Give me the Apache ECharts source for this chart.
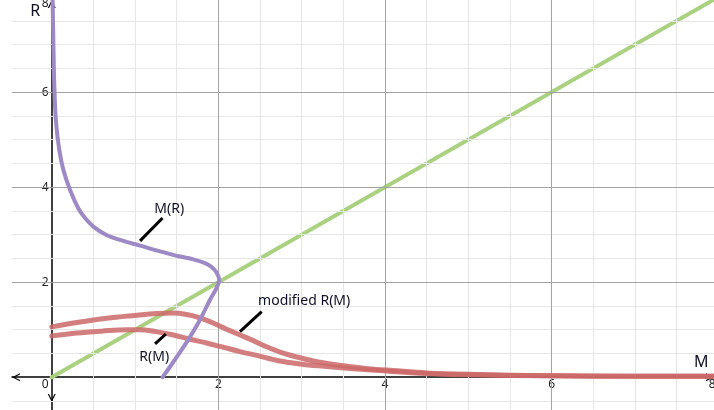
<!DOCTYPE html>
<html>
<head>
<meta charset="utf-8">
<script src="https://cdn.jsdelivr.net/npm/echarts@6/dist/echarts.min.js"></script>
<style>
  html, body { margin: 0; padding: 0; background: #fff; }
  #chart { width: 714px; height: 410px; }
</style>
</head>
<body>
<div id="chart"></div>
<script>
// Visible window of the M-R plane
const xRange = [-0.477, 7.95];
const yRange = [-0.69, 7.94];

// Grid spacing and labelled ticks
const minorStep = 0.5;
const majorStep = 2;
const xTicks = [2, 4, 6, 8];
const yTicks = [2, 4, 6, 8];

// Line R = M
const idM = [0, 8];
const idR = [0, 8];

// M(R): mass as a function of radius (traced along R)
const mrR = [0, 0.22, 0.5, 0.85, 1.21, 1.63, 1.85, 2.05, 2.2, 2.32, 2.40, 2.48, 2.54, 2.65, 2.77, 2.89, 3.0, 3.17, 3.35, 3.55, 3.94, 4.36, 4.79, 5.4, 6.2, 7.0, 8.0];
const mrM = [1.33, 1.42, 1.53, 1.66, 1.78, 1.90, 1.97, 2.01, 1.98, 1.92, 1.84, 1.70, 1.54, 1.30, 1.06, 0.82, 0.65, 0.50, 0.40, 0.32, 0.22, 0.14, 0.09, 0.05, 0.03, 0.02, 0.01];

// R(M)
const rmM = [0, 0.3, 0.6, 0.9, 1.06, 1.25, 1.46, 1.66, 1.86, 2.06, 2.26, 2.46, 2.74, 2.98, 3.2, 3.54, 3.94, 4.5, 5, 6, 7, 8];
const rmR = [0.87, 0.93, 0.97, 1.0, 1.0, 0.96, 0.89, 0.80, 0.72, 0.63, 0.54, 0.46, 0.34, 0.28, 0.24, 0.19, 0.14, 0.08, 0.05, 0.03, 0.02, 0.02];

// modified R(M)
const modM = [0, 0.3, 0.66, 1.0, 1.26, 1.45, 1.62, 1.78, 1.94, 2.1, 2.26, 2.42, 2.58, 2.74, 2.98, 3.2, 3.5, 3.8, 4.1, 4.5, 5, 6, 7, 8];
const modR = [1.06, 1.15, 1.24, 1.30, 1.34, 1.35, 1.32, 1.25, 1.14, 1.01, 0.89, 0.77, 0.64, 0.53, 0.41, 0.32, 0.24, 0.18, 0.14, 0.09, 0.06, 0.03, 0.02, 0.02];

// Curve captions: text, anchor point, leader line start/end (in M-R units)
const captions = ['M(R)', 'modified R(M)', 'R(M)'];
const captionAt = [[1.41, 3.54], [3.03, 1.61], [1.23, 0.42]];
const leaderFrom = [[1.06, 2.87], [2.26, 0.96], [1.24, 0.70]];
const leaderTo = [[1.33, 3.35], [2.52, 1.38], [1.37, 0.91]];

const zip = (a, b) => a.map((v, i) => [v, b[i]]);

function gridValues(lo, hi, step) {
  const out = [];
  for (let v = Math.ceil(lo / step) * step; v <= hi + 1e-9; v += step) {
    const r = Math.round(v * 1000) / 1000;
    if (Math.abs(r) > 1e-9) out.push(r);
  }
  return out;
}
const isMajor = v => Math.abs(v / majorStep - Math.round(v / majorStep)) < 1e-9;

const minorX = gridValues(xRange[0], xRange[1], minorStep).filter(v => !isMajor(v));
const majorX = gridValues(xRange[0], xRange[1], majorStep);
const minorY = gridValues(yRange[0], yRange[1], minorStep).filter(v => !isMajor(v));
const majorY = gridValues(yRange[0], yRange[1], majorStep);

const FONT = '"Noto Sans", "Open Sans", sans-serif';
const TEXT = '#000';
const chevron = 'path://M0,10 L5,0 L10,10 L8.4,10 L5,3 L1.6,10 Z';

const chart = echarts.init(document.getElementById('chart'), null, { renderer: 'canvas' });

const gridLineSeries = (vals, key, color) => ({
  type: 'line', data: [], z: 0, silent: true,
  markLine: {
    silent: true, symbol: 'none', animation: false,
    label: { show: false },
    lineStyle: { color: color, width: 1, type: 'solid' },
    emphasis: { disabled: true },
    data: vals.map(v => ({ [key]: v }))
  }
});

const curve = (data, color, width, z) => ({
  type: 'line', data: data, showSymbol: false, symbol: 'none', smooth: 0.35,
  clip: true, z: z, silent: true,
  lineStyle: { color: color, width: width, cap: 'round', join: 'round' }
});

// Plain text pinned to data points (symbols hidden); labels near the
// window edge are nudged inward so they stay readable.
const edgeNudge = (pt, offset) => {
  const o = offset.slice();
  if (pt[0] > xRange[1] - 0.1) o[0] -= 6;
  if (pt[1] > yRange[1] - 0.1) o[1] += 6;
  return o;
};
const textSeries = (pts, texts, size, offset, z, color) => ({
  type: 'scatter', symbolSize: 0, z: z, silent: true, clip: false,
  data: pts.map(p => ({ value: p, label: { offset: edgeNudge(p, offset) } })),
  itemStyle: { color: 'rgba(0,0,0,0)' },
  label: {
    show: true, position: 'inside', opacity: 1,
    formatter: p => texts[p.dataIndex],
    fontFamily: FONT, fontSize: size, color: color || TEXT,
    textBorderWidth: 0, textShadowBlur: 0,
    align: 'center', verticalAlign: 'middle'
  }
});

const option = {
  animation: false,
  grid: { left: 12, right: 0, top: 0, bottom: 0 },
  xAxis: {
    type: 'value', min: xRange[0], max: xRange[1], z: 1,
    axisLine: { onZero: true, lineStyle: { color: '#000', width: 1.5 },
      symbol: [chevron, chevron], symbolSize: [11, 8], symbolOffset: [4, -4] },
    axisTick: { show: false }, axisLabel: { show: false }, splitLine: { show: false }
  },
  yAxis: {
    type: 'value', min: yRange[0], max: yRange[1], z: 1,
    axisLine: { onZero: true, lineStyle: { color: '#000', width: 1.5 },
      symbol: [chevron, chevron], symbolSize: [11, 8], symbolOffset: [12, -4] },
    axisTick: { show: false }, axisLabel: { show: false }, splitLine: { show: false }
  },
  series: [
    gridLineSeries(minorX, 'xAxis', '#e6e6e6'),
    gridLineSeries(minorY, 'yAxis', '#e6e6e6'),
    gridLineSeries(majorX, 'xAxis', '#a3a3a3'),
    gridLineSeries(majorY, 'yAxis', '#a3a3a3'),
    curve(zip(idM, idR), '#a9d17f', 4, 4),
    curve(zip(modM, modR), 'rgba(205,104,104,0.85)', 5, 5),
    curve(zip(rmM, rmR), 'rgba(205,104,104,0.85)', 5, 5),
    curve(zip(mrM, mrR), '#9d89c6', 4, 6),
    // leader lines
    ...leaderFrom.map((p, i) => ({
      type: 'line', data: [p, leaderTo[i]], showSymbol: false, symbol: 'none', z: 7, silent: true,
      lineStyle: { color: '#000', width: 3 }
    })),
    // curve captions
    textSeries(captionAt, captions, 14, [0, 0], 8, '#101028'),
    // tick labels
    textSeries(xTicks.map(v => [v, 0]), xTicks.map(String), 12, [0, 7], 3, '#222'),
    textSeries(yTicks.map(v => [0, v]), yTicks.map(String), 12, [-6.5, 0], 3, '#222'),
    textSeries([[0, 0]], ['0'], 12, [-6.5, 7], 3, '#222'),
    // axis names
    textSeries([[xRange[1] - 0.2, 0]], ['M'], 16, [4, -15], 8, '#101028'),
    textSeries([[0, yRange[1] - 0.2]], ['R'], 16, [-16.5, 1.5], 8, '#101028')
  ]
};

chart.setOption(option);
</script>
</body>
</html>
